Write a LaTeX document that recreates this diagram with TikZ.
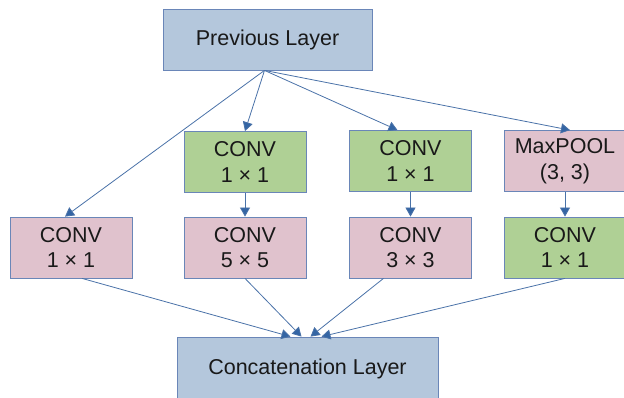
\documentclass[tikz,border=0pt]{standalone}
\usepackage{fontspec}
\setmainfont{Liberation Sans}
\usetikzlibrary{arrows.meta,calc}
\definecolor{bluefill}{HTML}{B4C7DC}
\definecolor{pinkfill}{HTML}{E0C2CD}
\definecolor{greenfill}{HTML}{AFD095}
\definecolor{edgecol}{HTML}{6A86B8}
\definecolor{linecol}{HTML}{4A72A8}
\definecolor{tipcol}{HTML}{3465A4}
\tikzset{
  box/.style={draw=edgecol, line width=0.8pt, inner sep=0pt, align=center,
    font=\fontsize{21.5}{25.5}\selectfont, text=black!90},
  bluebox/.style={box, fill=bluefill},
  pinkbox/.style={box, fill=pinkfill, minimum width=122pt, minimum height=61pt},
  greenbox/.style={box, fill=greenfill, minimum width=122pt, minimum height=61pt},
  conn/.style={draw=linecol, line width=0.8pt, -{Triangle[width=10pt,length=9pt,fill=tipcol]}},
}
\begin{document}
\begin{tikzpicture}[x=1pt,y=-1pt]
\useasboundingbox (0,0) rectangle (624,398);
\node[bluebox, minimum width=209pt, minimum height=61pt] (prev) at (267.5,39.5) {Previous Layer};
\node[pinkbox] (c1) at (71,247.5) {CONV\\1 × 1};
\node[greenbox] (g2) at (245,162) {CONV\\1 × 1};
\node[pinkbox] (c5) at (245,247.5) {CONV\\5 × 5};
\node[greenbox] (g3) at (410.5,161) {CONV\\1 × 1};
\node[pinkbox] (c3) at (410.5,247.5) {CONV\\3 × 3};
\node[pinkbox] (mp) at (565,161) {MaxPOOL\\(3, 3)};
\node[greenbox] (g4) at (565,247.5) {CONV\\1 × 1};
\node[bluebox, minimum width=261pt, minimum height=64pt] (cat) at (307.5,369) {Concatenation Layer};
\coordinate (src) at ($(prev.south)+(-3,0)$);
\draw[conn] (src) -- ($(c1.north)+(-6,0)$);
\draw[conn] (src) -- (g2.north);
\draw[conn] (src) -- ($(g3.north)+(-13,0)$);
\draw[conn] (src) -- ($(mp.north)+(5,0)$);
\draw[conn] (g2) -- (c5);
\draw[conn] (g3) -- (c3);
\draw[conn] (mp) -- (g4);
\draw[conn] ($(c1.south)+(11,0)$) -- ($(cat.north)+(-17,0)$);
\draw[conn] (c5.south) -- ($(cat.north)+(-6,0)$);
\draw[conn] ($(c3.south)+(-27,0)$) -- ($(cat.north)+(3,0)$);
\draw[conn] (g4.south) -- ($(cat.north)+(14,0)$);
\end{tikzpicture}
\end{document}
